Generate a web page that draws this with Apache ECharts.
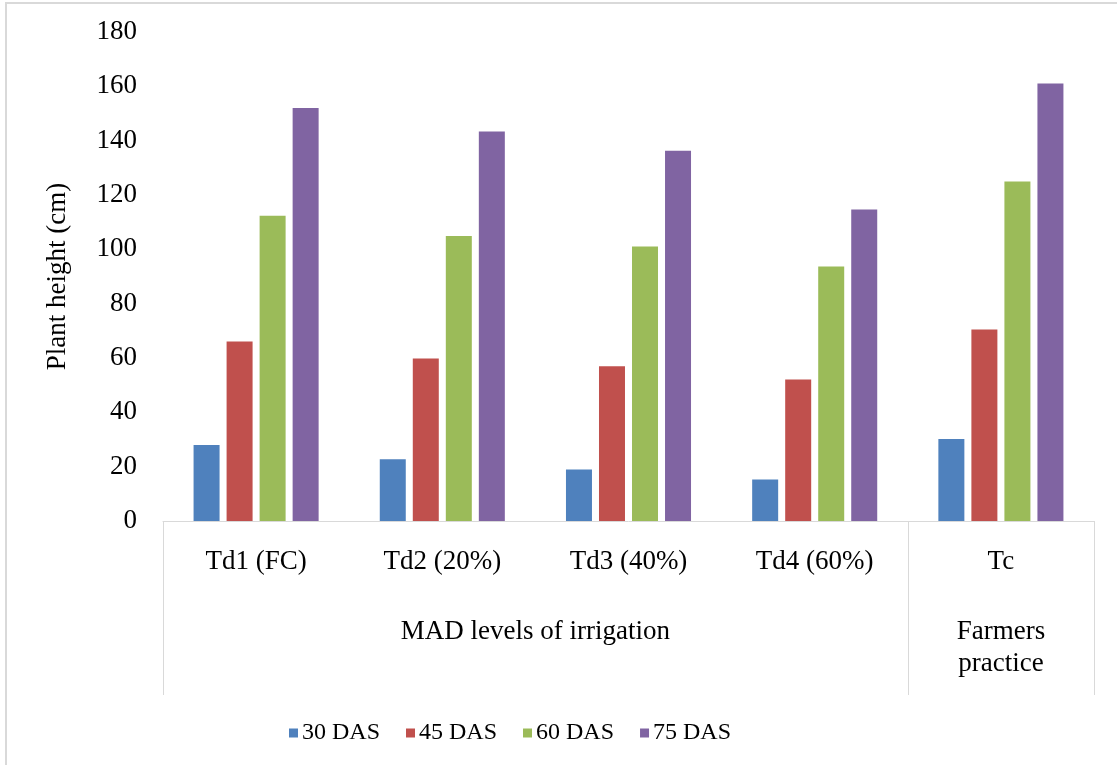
<!DOCTYPE html>
<html>
<head>
<meta charset="utf-8">
<script src="https://cdn.jsdelivr.net/npm/echarts@6/dist/echarts.min.js"></script>
<style>
html,body{margin:0;padding:0;background:#fff;}
#chart{width:1117px;height:765px;}
</style>
</head>
<body>
<div id="chart"></div>
<script>
const categories = ['Td1 (FC)', 'Td2 (20%)', 'Td3 (40%)', 'Td4 (60%)', 'Tc'];
const groupSlots = ['', '', '', '', 'MAD levels of irrigation', '', '', '', '', 'Farmers\npractice', ''];
const seriesNames = ['30 DAS', '45 DAS', '60 DAS', '75 DAS'];
const das30 = [28.0, 22.7, 19.0, 15.3, 30.2];
const das45 = [66.1, 59.8, 57.0, 52.1, 70.5];
const das60 = [112.4, 104.9, 101.0, 93.7, 125.0];
const das75 = [152.0, 143.4, 136.3, 114.7, 161.0];
const colors = ['#4F81BD', '#C0504D', '#9BBB59', '#8064A2'];

const FONT = '"Liberation Serif", "DejaVu Serif", serif';
const chart = echarts.init(document.getElementById('chart'));
const values = [das30, das45, das60, das75];
const separatorIdx = [0, 8, 10];

chart.setOption({
  animation: false,
  color: colors,
  textStyle: { fontFamily: FONT, color: '#000' },
  graphic: [{
    type: 'rect',
    shape: { x: 6, y: 3, width: 1130, height: 800 },
    style: { fill: 'none', stroke: '#D9D9D9', lineWidth: 2 },
    silent: true
  }],
  grid: { left: 163, right: 23, top: 32, bottom: 244, containLabel: false },
  legend: {
    left: 284, top: 716,
    itemWidth: 9, itemHeight: 9, itemGap: 26,
    icon: 'rect',
    textStyle: { fontFamily: FONT, fontSize: 24, color: '#000', padding: [0, 0, 0, -1] },
    data: seriesNames
  },
  xAxis: [{
    type: 'category',
    data: categories,
    axisLine: { show: true, lineStyle: { color: '#D9D9D9', width: 1 } },
    axisTick: { show: false },
    axisLabel: { fontFamily: FONT, fontSize: 27, color: '#000', margin: 25, lineHeight: 32, interval: 0 }
  }, {
    type: 'category',
    data: groupSlots,
    position: 'bottom',
    boundaryGap: false,
    axisLine: { show: false },
    axisTick: {
      show: true, length: 174,
      interval: function (idx) { return separatorIdx.indexOf(idx) >= 0; },
      lineStyle: { color: '#D9D9D9', width: 1 }
    },
    axisLabel: { fontFamily: FONT, fontSize: 27, color: '#000', margin: 95, lineHeight: 32, interval: 0 }
  }],
  yAxis: {
    type: 'value',
    min: 0, max: 180, interval: 20,
    name: 'Plant height (cm)',
    nameLocation: 'middle',
    nameGap: 92,
    nameTextStyle: { fontFamily: FONT, fontSize: 27, color: '#000' },
    axisLine: { show: false },
    axisTick: { show: false },
    splitLine: { show: false },
    axisLabel: { fontFamily: FONT, fontSize: 27, color: '#000', margin: 26 }
  },
  series: seriesNames.map((n, i) => ({
    name: n,
    type: 'bar',
    xAxisIndex: 0,
    data: values[i],
    barWidth: 26,
    barGap: '27%',
    itemStyle: { color: colors[i] }
  }))
});
</script>
</body>
</html>
